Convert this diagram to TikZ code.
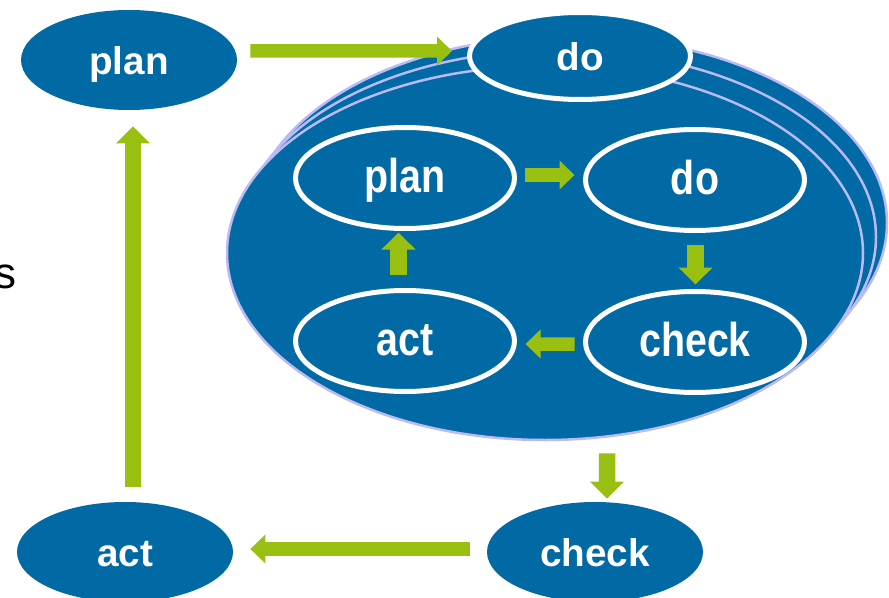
\documentclass[tikz,border=0pt]{standalone}
\usepackage{fontspec}
\setmainfont{Liberation Sans}
\newfontfamily\narrowsans{Liberation Sans}[FakeStretch=0.83]
\usepackage{tikz}
\usetikzlibrary{shapes.geometric, arrows.meta}
\definecolor{pdcaBlue}{RGB}{1, 105, 163}
\definecolor{pdcaGreen}{RGB}{153, 192, 17}
\definecolor{rimColor}{RGB}{186, 186, 245}

\tikzset{
    outerstage/.style={ellipse, fill=pdcaBlue, text=white, inner sep=0pt,
        minimum width=4.32cm, minimum height=2cm, text height=18pt, text depth=2pt,
        font=\bfseries\fontsize{22}{26}\selectfont},
    innerstage/.style={ellipse, draw=white, line width=0.1cm, fill=pdcaBlue, text=white, inner sep=0pt,
        minimum width=4.38cm, minimum height=2.02cm, text height=20pt, text depth=3.5pt,
        font=\narrowsans\bfseries\fontsize{27}{30}\selectfont},
    flow/.style={draw=pdcaGreen, line width=0.27cm, -{Triangle[width=0.56cm, length=0.3cm]}},
    flowwide/.style={draw=pdcaGreen, line width=0.33cm, -{Triangle[width=0.66cm, length=0.34cm]}}
}

\begin{document}
\begin{tikzpicture}
    \useasboundingbox (0,0) rectangle (17.78,11.94);

    % Stack of repeated cycles behind the front one
    \filldraw[fill=pdcaBlue, draw=rimColor, line width=0.05cm] (11.38,7.48) ellipse (6.36 and 3.74);
    \filldraw[fill=pdcaBlue, draw=rimColor, line width=0.05cm] (11.16,7.20) ellipse (6.36 and 3.74);
    \node[ellipse, fill=pdcaBlue, draw=rimColor, line width=0.05cm, minimum width=12.72cm, minimum height=7.48cm] (pdca) at (10.90,6.88) {};

    % Cut off word on the left
    \node[anchor=base west, inner sep=0pt, font=\fontsize{25}{30}\selectfont] (word) at (-0.11,6.18) {s};

    % Outer cycle
    \node[outerstage] (plan) at (2.58,10.74) {plan};
    \node[outerstage, draw=white, line width=0.1cm, minimum width=4.42cm, minimum height=1.74cm] (do) at (11.60,10.82) {do};
    \node[outerstage] (check) at (11.90,0.90) {check};
    \node[outerstage] (act) at (2.50,0.90) {act};

    % Inner cycle
    \node[innerstage] (iplan) at (8.10,8.38) {plan};
    \node[innerstage] (ido) at (13.90,8.34) {do};
    \node[innerstage] (icheck) at (13.90,5.10) {check};
    \node[innerstage] (iact) at (8.10,5.12) {act};

    % Outer arrows
    \draw[flow, shorten <=0.26cm, shorten >=0.3cm] ([yshift=0.18cm]plan.east) -- ([yshift=0.1cm]do.west);
    \draw[flowwide, shorten <=0.24cm, shorten >=0.06cm] ([xshift=1.24cm]pdca.south) -- ([xshift=0.24cm]check.north);
    \draw[flow, shorten <=0.34cm, shorten >=0.34cm] ([yshift=0.06cm]check.west) -- ([yshift=0.06cm]act.east);
    \draw[flowwide, shorten <=0.3cm, shorten >=0.32cm] ([xshift=0.16cm]act.north) -- ([xshift=0.08cm]plan.south);

    % Inner arrows
    \draw[flow, shorten <=0.15cm, shorten >=0.17cm] ([yshift=0.06cm]iplan.east) -- ([yshift=0.1cm]ido.west);
    \draw[flowwide, shorten <=0.23cm, shorten >=0.09cm] ([xshift=0.01cm]ido.south) -- ([xshift=0.01cm]icheck.north);
    \draw[flow, shorten <=0.17cm, shorten >=0.17cm] ([yshift=-0.04cm]icheck.west) -- ([yshift=-0.06cm]iact.east);
    \draw[flowwide, shorten <=0.27cm, shorten >=0.03cm] ([xshift=-0.13cm]iact.north) -- ([xshift=-0.13cm]iplan.south);
\end{tikzpicture}
\end{document}
